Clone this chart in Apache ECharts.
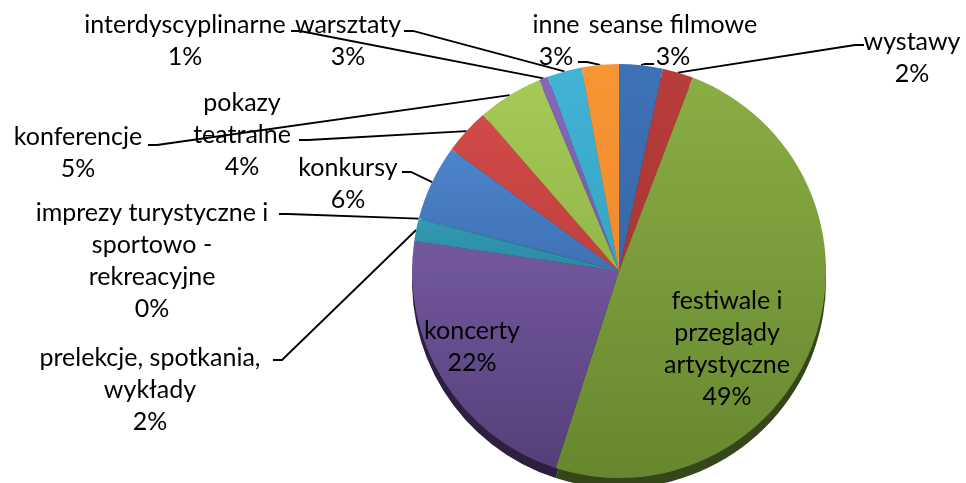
<!DOCTYPE html>
<html>
<head>
<meta charset="utf-8">
<script src="https://cdn.jsdelivr.net/npm/echarts@6/dist/echarts.min.js"></script>
<style>
  html, body { margin: 0; padding: 0; background: #fff; }
  #pieChart { width: 966px; height: 483px; }
</style>
</head>
<body>
<div id="pieChart"></div>
<script>
// kategorie, zgodnie z ruchem wskazówek zegara od godziny 12
const categories = [
  "seanse filmowe",
  "wystawy",
  "festiwale i\nprzeglądy\nartystyczne",
  "koncerty",
  "prelekcje, spotkania,\nwykłady",
  "imprezy turystyczne i\nsportowo -\nrekreacyjne",
  "konkursy",
  "pokazy\nteatralne",
  "konferencje",
  "interdyscyplinarne",
  "warsztaty",
  "inne"
];
const values = [3.4, 2.4, 49.2, 22.4, 1.7, 0.1, 5.9, 3.6, 5.1, 0.7, 2.7, 2.9];

// kolory (góra / dół gradientu oraz boczna ścianka)
const topColors = ["#3E72B6", "#B83D3A", "#8AAD45", "#73589F", "#3399B2", "#3399B2",
  "#4D84CB", "#D24A47", "#A6CA57", "#8767BA", "#42B4D6", "#F89635"];
const bottomColors = ["#3768A8", "#AA3634", "#67872E", "#563F78", "#2B8AA2", "#2B8AA2",
  "#3F71B4", "#BF403E", "#93B64A", "#7659A6", "#36A3C4", "#EE8B2D"];
const sideColors = ["#1F3A60", "#5E1D1C", "#35471A", "#2C1F40", "#174A56", "#174A56",
  "#22406A", "#6A2220", "#4F6426", "#3E2E5C", "#1D5A6C", "#7E4817"];

// rozmieszczenie etykiet: środek bloku tekstu i koniec linii odniesienia
const labelPlaces = [
  { x: 673, y: 41, tx: 654, ty: 64 },
  { x: 912, y: 58, tx: 864, ty: 45 },
  { x: 727, y: 349, inside: true },
  { x: 472, y: 347, inside: true },
  { x: 150, y: 390, tx: 273, ty: 360 },
  { x: 152, y: 261, tx: 279, ty: 214 },
  { x: 348, y: 184, tx: 402, ty: 172 },
  { x: 242, y: 135, tx: 299, ty: 140 },
  { x: 78, y: 153, tx: 148, ty: 145 },
  { x: 185, y: 41, tx: 291, ty: 31 },
  { x: 348, y: 41, tx: 404, ty: 31 },
  { x: 556, y: 41, tx: 578, ty: 62 }
];

const pieCenter = [619, 271];
const pieRadius = 207;

const topData = categories.map((name, i) => ({
  name: name,
  value: values[i],
  itemStyle: {
    color: new echarts.graphic.LinearGradient(0, 0, 0, 1, [
      { offset: 0, color: topColors[i] },
      { offset: 1, color: bottomColors[i] }
    ])
  },
  label: { position: labelPlaces[i].inside ? "inside" : "outside" },
  labelLine: { show: !labelPlaces[i].inside }
}));

const sideData = categories.map((name, i) => ({
  name: name,
  value: values[i],
  itemStyle: { color: sideColors[i] }
}));

const option = {
  animation: false,
  series: [
    {
      // ścianka boczna (efekt 3D)
      type: "pie",
      silent: true,
      z: 1,
      center: [pieCenter[0], pieCenter[1] + 10],
      radius: pieRadius,
      startAngle: 90,
      clockwise: true,
      label: { show: false },
      labelLine: { show: false },
      data: sideData
    },
    {
      type: "pie",
      z: 2,
      center: pieCenter,
      radius: pieRadius,
      startAngle: 90,
      clockwise: true,
      avoidLabelOverlap: false,
      emphasis: { disabled: true },
      label: {
        show: true,
        color: "#000",
        fontFamily: "Lato",
        fontSize: 25,
        lineHeight: 32,
        align: "center",
        formatter: (p) => p.name + "\n" + Math.round(p.percent) + "%"
      },
      labelLine: {
        show: true,
        length: 10,
        length2: 10,
        lineStyle: { color: "#000", width: 1.8 }
      },
      labelLayout: (params) => {
        const place = labelPlaces[params.dataIndex];
        const layout = { x: place.x, y: place.y, align: "center", verticalAlign: "middle" };
        if (!place.inside && params.labelLinePoints) {
          const start = params.labelLinePoints[0];
          const dir = start[0] > place.tx ? 1 : -1;
          layout.labelLinePoints = [
            [start[0], start[1]],
            [place.tx + dir * 9, place.ty],
            [place.tx, place.ty]
          ];
        }
        return layout;
      },
      data: topData
    }
  ]
};

const chartObj = echarts.init(document.getElementById("pieChart"));
chartObj.setOption(option);
window.onresize = chartObj.resize;
</script>
</body>
</html>
